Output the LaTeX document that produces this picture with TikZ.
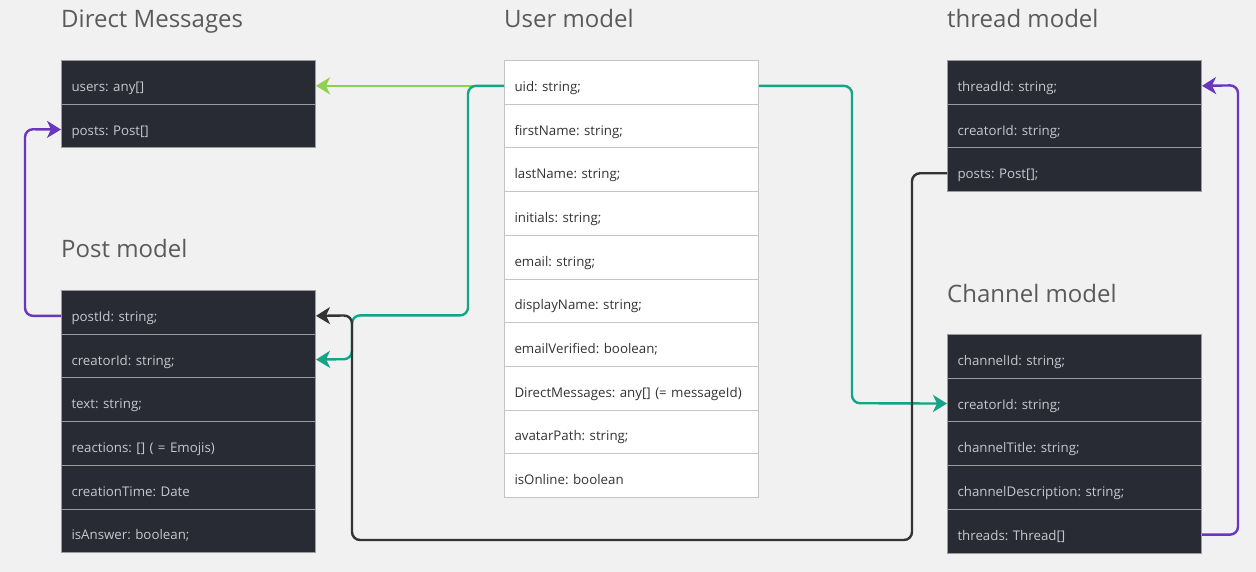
\documentclass[tikz,border=0pt]{standalone}
\usepackage{fontspec}
\setmainfont{Open Sans}
\usetikzlibrary{arrows.meta}
\frenchspacing
\definecolor{bg}{HTML}{F1F1F1}
\definecolor{darkrow}{HTML}{292B34}
\definecolor{sep}{HTML}{9B9B9B}
\definecolor{darktxt}{HTML}{C6C8CD}
\definecolor{lighttxt}{HTML}{333333}
\definecolor{lightsep}{HTML}{C4C4C4}
\definecolor{titlec}{HTML}{5A5A5A}
\definecolor{cgreen}{HTML}{8FD14F}
\definecolor{cteal}{HTML}{12A587}
\definecolor{cpurple}{HTML}{6A35BF}
\definecolor{cdark}{HTML}{333333}
\begin{document}
\begin{tikzpicture}[x=1pt,y=-1pt,
  row/.style={anchor=north west, minimum width=254pt, minimum height=43.7pt,
    inner xsep=10pt, inner ysep=0pt, text width=234pt, align=left,
    text height=18pt, text depth=0pt, font=\fontsize{13.3}{16}\selectfont\frenchspacing, line width=1pt},
  drow/.style={row, fill=darkrow, draw=sep, text=darktxt},
  lrow/.style={row, fill=white, draw=lightsep, text=lighttxt},
  title/.style={anchor=base west, inner sep=0pt, font=\fontsize{24}{28}\selectfont, text=titlec},
  conn/.style={line width=2.4pt, rounded corners=8pt,
    -{Stealth[length=14pt,width=17pt,inset=4pt]}}
]
\fill[bg] (0,0) rectangle (1256,572);
\useasboundingbox (0,0) rectangle (1256,572);

% titles
\node[title] (tdm) at (61,28) {Direct Messages};
\node[title] (tum) at (504,28) {User model};
\node[title] (ttm) at (947,28) {thread model};
\node[title] (tpm) at (61,258) {Post model};
\node[title] (tcm) at (947,302) {Channel model};

% Direct Messages
\node[drow] (dm1) at (61,60) {users: any[]};
\node[drow] (dm2) at (61,103.7) {posts: Post[]};

% User model
\node[lrow] (u1) at (504,60) {uid: string;};
\node[lrow] (u2) at (504,103.7) {firstName: string;};
\node[lrow] (u3) at (504,147.4) {lastName: string;};
\node[lrow] (u4) at (504,191.1) {initials: string;};
\node[lrow] (u5) at (504,234.8) {email: string;};
\node[lrow] (u6) at (504,278.5) {displayName: string;};
\node[lrow] (u7) at (504,322.2) {emailVerified: boolean;};
\node[lrow] (u8) at (504,365.9) {DirectMessages: any[] (= messageId)};
\node[lrow] (u9) at (504,409.6) {avatarPath: string;};
\node[lrow] (u10) at (504,453.3) {isOnline: boolean};

% thread model
\node[drow] (th1) at (947,60) {threadId: string;};
\node[drow] (th2) at (947,103.7) {creatorId: string;};
\node[drow] (th3) at (947,147.4) {posts: Post[];};

% Post model
\node[drow] (p1) at (61,290) {postId: string;};
\node[drow] (p2) at (61,333.7) {creatorId: string;};
\node[drow] (p3) at (61,377.4) {text: string;};
\node[drow] (p4) at (61,421.1) {reactions: [] ( = Emojis)};
\node[drow] (p5) at (61,464.8) {creationTime: Date};
\node[drow] (p6) at (61,508.5) {isAnswer: boolean;};

% Channel model
\node[drow] (ch1) at (947,334) {channelId: string;};
\node[drow] (ch2) at (947,377.7) {creatorId: string;};
\node[drow] (ch3) at (947,421.4) {channelTitle: string;};
\node[drow] (ch4) at (947,465.1) {channelDescription: string;};
\node[drow] (ch5) at (947,508.8) {threads: Thread[]};

% attachment points
\coordinate (u1w) at ([yshift=-3.5pt]u1.west);
\coordinate (u1e) at ([yshift=-3.5pt]u1.east);
\coordinate (dm1e) at ([yshift=-3.5pt]dm1.east);
\coordinate (dm2w) at ([yshift=-3.5pt]dm2.west);
\coordinate (p1e) at ([yshift=-3.5pt]p1.east);
\coordinate (p1w) at ([yshift=-3.5pt]p1.west);
\coordinate (p2e) at ([yshift=-3.5pt]p2.east);
\coordinate (th1e) at ([yshift=-3.5pt]th1.east);
\coordinate (th3w) at ([yshift=-3.5pt]th3.west);
\coordinate (ch2w) at ([yshift=-3.5pt]ch2.west);
\coordinate (ch5e) at ([yshift=-3.5pt]ch5.east);

\coordinate (c1) at (468,315.4);
\coordinate (c2) at (352,359.1);
\coordinate (c3) at (852,403.2);
\coordinate (d1) at (912,540);
\coordinate (d2) at (352,315.4);
\coordinate (e1) at (25,129.2);
\coordinate (e2) at (1238,85.3);

% connectors
\draw[conn, cgreen] (u1w) -- (dm1e);
\draw[conn, cteal] (u1w) -| (c1) -| (c2) -- (p2e);
\draw[conn, cteal] (u1e) -| (c3) -- (ch2w);
\draw[conn, cdark] (th3w) -| (d1) -| (d2) -- (p1e);
\draw[conn, cpurple] (p1w) -| (e1) -- (dm2w);
\draw[conn, cpurple] (ch5e) -| (e2) -- (th1e);
\end{tikzpicture}
\end{document}
